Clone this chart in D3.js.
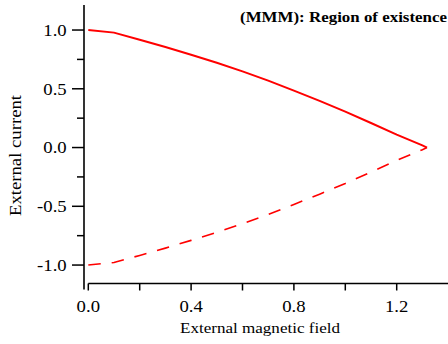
<!DOCTYPE html>
<html>
<head>
<meta charset="utf-8">
<script src="https://cdn.jsdelivr.net/npm/d3@7"></script>
<style>
  html, body { margin: 0; padding: 0; background: #fff; }
  svg { display: block; }
</style>
</head>
<body>
<div id="chart"></div>
<script>
// values
const fieldValues = [0, 0.1, 0.2, 0.3, 0.4, 0.5, 0.6, 0.7, 0.8, 0.9, 1.0, 1.1, 1.2, 1.3, 1.318];
const upperCurrent = [1.0, 0.978, 0.918, 0.856, 0.79, 0.721, 0.648, 0.569, 0.484, 0.397, 0.306, 0.209, 0.11, 0.018, 0.0];
const lowerCurrent = [-1.0, -0.978, -0.918, -0.856, -0.79, -0.721, -0.648, -0.569, -0.484, -0.397, -0.306, -0.209, -0.11, -0.018, 0.0];

const xMajorTicks = [0, 0.4, 0.8, 1.2];
const xMinorTicks = [0.2, 0.6, 1.0];
const xTickLabels = ['0.0', '0.4', '0.8', '1.2'];
const yMajorTicks = [-1, -0.5, 0, 0.5, 1];
const yMinorTicks = [-0.75, -0.25, 0.25, 0.75];
const yTickLabels = ['-1.0', '-0.5', '0.0', '0.5', '1.0'];

const titleText = '(MMM): Region of existence';
const xLabel = 'External magnetic field';
const yLabel = 'External current';

const width = 448, height = 344;
const serif = '"Liberation Serif", "Times New Roman", Times, serif';

const svg = d3.select('#chart').append('svg')
  .attr('width', width)
  .attr('height', height);

// scales
const x = d3.scaleLinear().domain([0, 1.4]).range([88.3, 448.1]);
const y = d3.scaleLinear().domain([-1.157, 1.213]).range([283.5, 5]);

// stretch text horizontally a bit, the original is wider than plain Times
function stretch(sel, k) {
  sel.each(function() {
    const w = this.getComputedTextLength();
    d3.select(this).attr('textLength', w * k).attr('lengthAdjust', 'spacingAndGlyphs');
  });
}

// x axis
const xAxisG = svg.append('g').attr('transform', 'translate(0,283.5)');
xAxisG.append('line')
  .attr('x1', x(0)).attr('x2', width)
  .attr('stroke', '#000').attr('stroke-width', 1.6);
xAxisG.selectAll('.xtick')
  .data(xMajorTicks.concat(xMinorTicks))
  .enter().append('line')
  .attr('class', 'xtick')
  .attr('x1', d => x(d)).attr('x2', d => x(d))
  .attr('y1', 0).attr('y2', 7)
  .attr('stroke', '#000').attr('stroke-width', 1.5);
xAxisG.selectAll('.xlab')
  .data(xMajorTicks)
  .enter().append('text')
  .attr('class', 'xlab')
  .attr('x', d => x(d))
  .attr('y', 28.2)
  .attr('text-anchor', 'middle')
  .attr('font-family', serif)
  .attr('font-size', 17)
  .text((d, i) => xTickLabels[i])
  .call(stretch, 1.1);

// y axis (offset a few px left of the plot)
const yAxisG = svg.append('g').attr('transform', 'translate(84,0)');
yAxisG.append('line')
  .attr('y1', 5).attr('y2', 289.5)
  .attr('stroke', '#000').attr('stroke-width', 1.6);
yAxisG.selectAll('.ymajor')
  .data(yMajorTicks)
  .enter().append('line')
  .attr('class', 'ymajor')
  .attr('x1', -12).attr('x2', 0)
  .attr('y1', d => y(d)).attr('y2', d => y(d))
  .attr('stroke', '#000').attr('stroke-width', 1.5);
yAxisG.selectAll('.yminor')
  .data(yMinorTicks)
  .enter().append('line')
  .attr('class', 'yminor')
  .attr('x1', -7).attr('x2', 0)
  .attr('y1', d => y(d)).attr('y2', d => y(d))
  .attr('stroke', '#000').attr('stroke-width', 1.5);
yAxisG.selectAll('.ylab')
  .data(yMajorTicks)
  .enter().append('text')
  .attr('class', 'ylab')
  .attr('x', -17.3)
  .attr('y', d => y(d))
  .attr('dy', '0.34em')
  .attr('text-anchor', 'end')
  .attr('font-family', serif)
  .attr('font-size', 17)
  .text((d, i) => yTickLabels[i])
  .call(stretch, 1.1);

// curves
const line = d3.line()
  .x(d => x(d[0]))
  .y(d => y(d[1]));

svg.append('path')
  .datum(fieldValues.map((f, i) => [f, upperCurrent[i]]))
  .attr('d', line)
  .attr('fill', 'none')
  .attr('stroke', '#ff0000')
  .attr('stroke-width', 2);

svg.append('path')
  .datum(fieldValues.map((f, i) => [f, lowerCurrent[i]]))
  .attr('d', line)
  .attr('fill', 'none')
  .attr('stroke', '#ff0000')
  .attr('stroke-width', 1.6)
  .attr('stroke-dasharray', '12.5,11');

// title
svg.append('text')
  .attr('x', 447)
  .attr('y', 21.5)
  .attr('text-anchor', 'end')
  .attr('font-family', serif)
  .attr('font-weight', 'bold')
  .attr('font-size', 15)
  .text(titleText)
  .attr('textLength', 207)
  .attr('lengthAdjust', 'spacingAndGlyphs');

// axis labels
svg.append('text')
  .attr('x', 260)
  .attr('y', 333.3)
  .attr('text-anchor', 'middle')
  .attr('font-family', serif)
  .attr('font-size', 15)
  .text(xLabel)
  .attr('textLength', 160)
  .attr('lengthAdjust', 'spacingAndGlyphs');

svg.append('text')
  .attr('transform', 'translate(21,155.5) rotate(-90)')
  .attr('text-anchor', 'middle')
  .attr('font-family', serif)
  .attr('font-size', 16)
  .text(yLabel)
  .attr('textLength', 121)
  .attr('lengthAdjust', 'spacingAndGlyphs');
</script>
</body>
</html>
